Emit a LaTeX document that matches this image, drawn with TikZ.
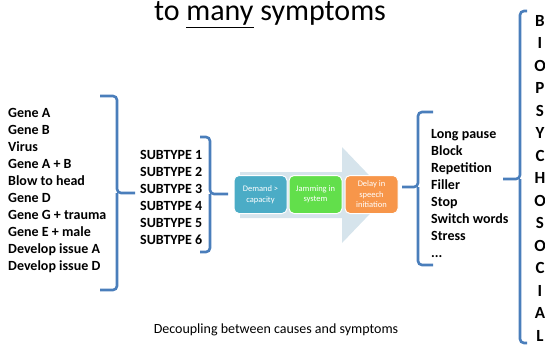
\documentclass[tikz,border=0pt]{standalone}
\usepackage{fontspec}
\setmainfont{Carlito}
\usepackage{xcolor}
\usepackage{tikz}

\definecolor{braceblue}{HTML}{4A7EBB}
\definecolor{flowbg}{HTML}{D6E4EC}
\definecolor{tealbox}{HTML}{4BACC6}
\definecolor{greenbox}{HTML}{62DF4B}
\definecolor{orangebox}{HTML}{F7964A}

\begin{document}
\begin{tikzpicture}[
    x=1pt, y=-1pt,
    brace/.style={draw=braceblue, line width=2.6pt, rounded corners=4pt},
    list/.style={align=left, inner sep=0pt, anchor=west, font=\bfseries\fontsize{14}{17}\selectfont},
    stage/.style={draw=white, line width=1pt, rounded corners=5pt, minimum width=53pt, minimum height=38pt, inner sep=1pt, align=center, text=white, font=\fontsize{8.5}{10.5}\selectfont},
    caption/.style={font=\fontsize{14}{16}\selectfont}
]
    \useasboundingbox (0,0) rectangle (545,345);

    % Title
    \node[anchor=base, font=\fontsize{30}{34}\selectfont] (title) at (270,21) {to \underline{many} symptoms};

    % Causes
    \node[list] (causes) at (8,191) {Gene A\\Gene B\\Virus\\Gene A + B\\Blow to head\\Gene D\\Gene G + trauma\\Gene E + male\\Develop issue A\\Develop issue D};
    \draw[brace] (100,96) -- (117,96) -- (117,193) -- (135,193);
    \draw[brace] (100,290) -- (117,290) -- (117,193);

    % Subtypes
    \node[list] (subtypes) at (140,197) {SUBTYPE 1\\SUBTYPE 2\\SUBTYPE 3\\SUBTYPE 4\\SUBTYPE 5\\SUBTYPE 6};
    \draw[brace] (200,137) -- (210,137) -- (210,194) -- (228,194);
    \draw[brace] (200,252) -- (210,252) -- (210,194);

    % Mechanism
    \fill[flowbg] (240,172) -- (342,172) -- (342,147) -- (388,195) -- (342,243) -- (342,218) -- (240,218) -- cycle;
    \node[stage, fill=tealbox] (demand) at (260.5,194.5) {Demand >\\capacity};
    \node[stage, fill=greenbox] (jam) at (315.5,194.5) {Jamming in\\system};
    \node[stage, fill=orangebox] (delay) at (371.5,194.5) {Delay in\\speech\\initiation};

    % Symptoms
    \draw[brace] (433,112) -- (418,112) -- (418,187) -- (402,187);
    \draw[brace] (433,265) -- (418,265) -- (418,187);
    \node[list] (symptoms) at (431,194) {Long pause\\Block\\Repetition\\Filler\\Stop\\Switch words\\Stress\\...};

    % Biopsychosocial
    \draw[brace] (527,11) -- (520,11) -- (520,179) -- (503,179);
    \draw[brace] (527,343) -- (520,343) -- (520,179);
    \node[align=center, inner sep=0pt, font=\bfseries\fontsize{17}{22.5}\selectfont] (bps) at (540,178) {B\\I\\O\\P\\S\\Y\\C\\H\\O\\S\\O\\C\\I\\A\\L};

    \node[caption] (note) at (276,330) {Decoupling between causes and symptoms};
\end{tikzpicture}
\end{document}
